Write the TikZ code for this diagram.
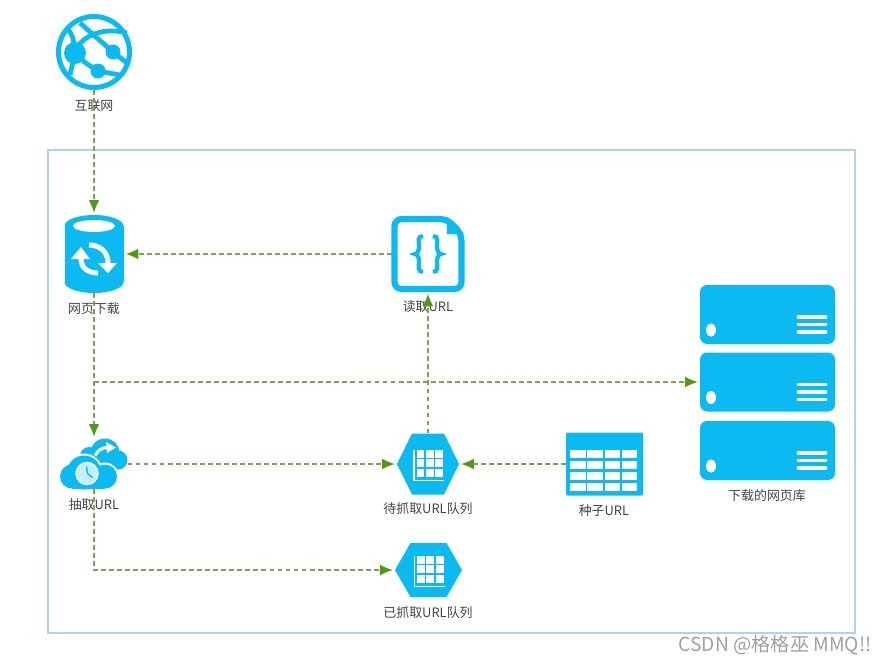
\documentclass[tikz,border=0pt]{standalone}
\usepackage{fontspec}
\usepackage{xcolor}
\usepackage{tikz}
\usetikzlibrary{arrows.meta, calc}
\setmainfont{Noto Sans CJK SC}
\definecolor{iconblue}{HTML}{0ABAF0}
\definecolor{framebg}{HTML}{A9D5EF}
\definecolor{flowline}{HTML}{7FA356}
\definecolor{flowtip}{HTML}{4F9A10}
\definecolor{textlabel}{HTML}{444444}
\definecolor{markgrey}{HTML}{A0A0A0}
\tikzset{
  pics/globeicon/.style={code={
    \draw[iconblue, line width=3.6pt] (0,0) circle (35.5);
    \fill[iconblue] (-19,1) circle (11) (19,0) circle (7.5) (4,19) circle (7.5);
    \draw[iconblue, line width=3.4pt] (-27,-24) .. controls (-21,-16) .. (-19,1);
    \draw[iconblue, line width=3.4pt] (-14,-29) -- (19,0) -- (33,11);
    \draw[iconblue, line width=3.4pt] (-17,-5) .. controls (-6,-20) and (14,-24) .. (33,-19);
    \draw[iconblue, line width=3.4pt] (-19,1) .. controls (-10,10) .. (4,19) -- (26,23);
    \draw[iconblue, line width=3.4pt] (-19,1) -- (-24,23);
  }},
  pics/syncdb/.style={code={
    \fill[iconblue] (0,-28) ellipse (29.5 and 11);
    \fill[iconblue] (0,28) ellipse (29.5 and 11);
    \fill[iconblue] (-29.5,-28) rectangle (29.5,28);
    \fill[white] (0,-28) ellipse (21 and 6);
    \begin{scope}[shift={(0,5)}]
      \draw[white, line width=3.6pt] (-13,0) .. controls (-13,9) and (-6,14) .. (4,14);
      \draw[white, line width=3.6pt] (14,4) .. controls (14,-8) and (5,-14) .. (-5,-14);
      \fill[white] (-23,0) -- (-4,0) -- (-13,-12) -- cycle;
      \fill[white] (4,4) -- (23,4) -- (14,14) -- cycle;
    \end{scope}
  }},
  pics/braceicon/.style={code={
    \draw[iconblue, line width=4.4pt, rounded corners=5, fill=white] (-33.5,-35) -- (19,-35) -- (33.5,-20) -- (33.5,35) -- (-33.5,35) -- cycle;
    \fill[iconblue] (19,-37.5) -- (36,-20) -- (19,-20) -- cycle;
    \foreach \s in {-1,1}{
      \draw[iconblue, line width=3pt, xscale=\s] (5,-18) .. controls (11,-18) and (9,-12) .. (9,-7) .. controls (9,-3) and (11,0) .. (13,0) .. controls (11,0) and (9,3) .. (9,7) .. controls (9,12) and (11,18) .. (5,18);
    }
  }},
  pics/cloudicon/.style={code={
    \fill[iconblue] (11,-11) circle (14.5) (24,-4) circle (9.5) (-5,-8) circle (9);
    \draw[white, line width=2.2pt] (1,-8.5) .. controls (4,-14) and (8,-16.5) .. (14,-16.5);
    \fill[white] (12,-22) -- (22,-16.5) -- (13,-11) -- cycle;
    \fill[white] (-10,8.5) circle (19) (-22,12.5) circle (14) (11,12.5) circle (14);
    \fill[iconblue] (-10,8.5) circle (17) (-22,12.5) circle (12) (11,12.5) circle (12);
    \fill[iconblue] (-22,12) rectangle (11,24.5);
    \draw[white, line width=1pt, fill=iconblue!25] (-7,9.5) circle (11);
    \draw[iconblue, line width=1pt] (-7.5,2.5) -- (-6.5,9.5) -- (-1.5,13.5);
  }},
  pics/hexgrid/.style n args={3}{code={
    \fill[iconblue] (-#1,0) -- (-#2,-#3) -- (#2,-#3) -- (#1,0) -- (#2,#3) -- (-#2,#3) -- cycle;
    \foreach \i in {0,1,2}{
      \foreach \j in {0,1,2}{
        \fill[white] ({-11.5+9.4*\i},{-14.5+9.5*\j}) rectangle ++(7.8,8);
      }
    }
    \draw[white, line width=1.4pt] (-14,-14.5) -- (-14,16.5) -- (16,16.5);
  }},
  pics/tableicon/.style={code={
    \fill[iconblue, rounded corners=1] (-38.5,-31.5) rectangle (38.5,31.5);
    \foreach \i in {0,1,2,3}{
      \foreach \j in {0,1,2,3}{
        \fill[white] ({-34.5+17.3*\i},{-14.2+11.1*\j}) rectangle ++(15.5,8.3);
      }
    }
  }},
  pics/servericon/.style={code={
    \fill[iconblue, rounded corners=5] (-67.5,-29.5) rectangle (67.5,29.5);
    \fill[white] (-56.5,15.5) ellipse (5 and 6.5);
    \foreach \y in {2.5,10,17.5}{
      \draw[white, line width=2.8pt, line cap=round] (31,\y) -- (58,\y);
    }
  }},
}
\begin{document}
\begin{tikzpicture}[
    x=0.025cm, y=-0.025cm, font=\fontsize{9.2pt}{10pt}\selectfont,
    icon/.style={inner sep=0pt, outer sep=0pt},
    lbl/.style={text=textlabel, inner sep=0pt},
    flow/.style={draw=flowline, line width=1.05pt, dash pattern=on 3.5pt off 2.2pt, -{Latex[length=9pt, width=7.5pt, flowtip]}, shorten >=1.5pt}]
  \useasboundingbox (0,0) rectangle (886,664);
  \draw[framebg, line width=1.4pt] (48,150) rectangle (855,633);
  % icons
  \node[icon, minimum size=1.9cm] (net) at (94,52) {};
  \pic at (net) {globeicon};
  \node[icon, minimum width=1.475cm, minimum height=1.95cm] (dl) at (94,254) {};
  \pic at (dl) {syncdb};
  \node[icon, minimum width=1.8cm, minimum height=1.875cm] (rd) at (428,254) {};
  \pic at (rd) {braceicon};
  \node[icon, minimum width=1.675cm, minimum height=1.25cm] (ex) at (94,464) {};
  \pic at (ex) {cloudicon};
  \node[icon, minimum width=1.55cm, minimum height=1.525cm] (todo) at (428,464) {};
  \pic at (todo) {hexgrid={31}{16}{30.5}};
  \node[icon, minimum width=1.675cm, minimum height=1.35cm] (done) at (428.5,570) {};
  \pic at (done) {hexgrid={33.5}{18}{27}};
  \node[icon, minimum width=1.925cm, minimum height=1.575cm] (seed) at (604.5,464) {};
  \pic at (seed) {tableicon};
  \node[icon, minimum width=3.375cm, minimum height=1.475cm] (db1) at (767.5,314.5) {};
  \pic at (db1) {servericon};
  \node[icon, minimum width=3.375cm, minimum height=1.475cm] (db2) at (767.5,382) {};
  \pic at (db2) {servericon};
  \node[icon, minimum width=3.375cm, minimum height=1.475cm] (db3) at (767.5,450.5) {};
  \pic at (db3) {servericon};
  % labels
  \node[lbl] (netl) at (94,106) {互联网};
  \node[lbl] (dll) at (94,309) {网页下载};
  \node[lbl] (rdl) at (428,307) {读取URL};
  \node[lbl] (exl) at (94,505) {抽取URL};
  \node[lbl] (todol) at (428,509) {待抓取URL队列};
  \node[lbl] (seedl) at (604,511) {种子URL};
  \node[lbl] (donel) at (428,613) {已抓取URL队列};
  \node[lbl] (dbl) at (767,496) {下载的网页库};
  \node[lbl, text=markgrey, font=\fontsize{13.7pt}{15pt}\selectfont, anchor=east] (mark) at (872,645) {CSDN @格格巫 MMQ!!};
  % connectors
  \coordinate (branch) at (dl.south |- db2.west);
  \draw[flow] (net) -- (dl);
  \draw[flow] (rd) -- (dl);
  \draw[flow] (dl) -- (ex);
  \draw[flow] (branch) -- (db2);
  \draw[flow] (ex) -- (todo);
  \draw[flow] (seed) -- (todo);
  \draw[flow] (todo) -- (rd);
  \draw[flow] (ex.south) |- (done);
\end{tikzpicture}
\end{document}
